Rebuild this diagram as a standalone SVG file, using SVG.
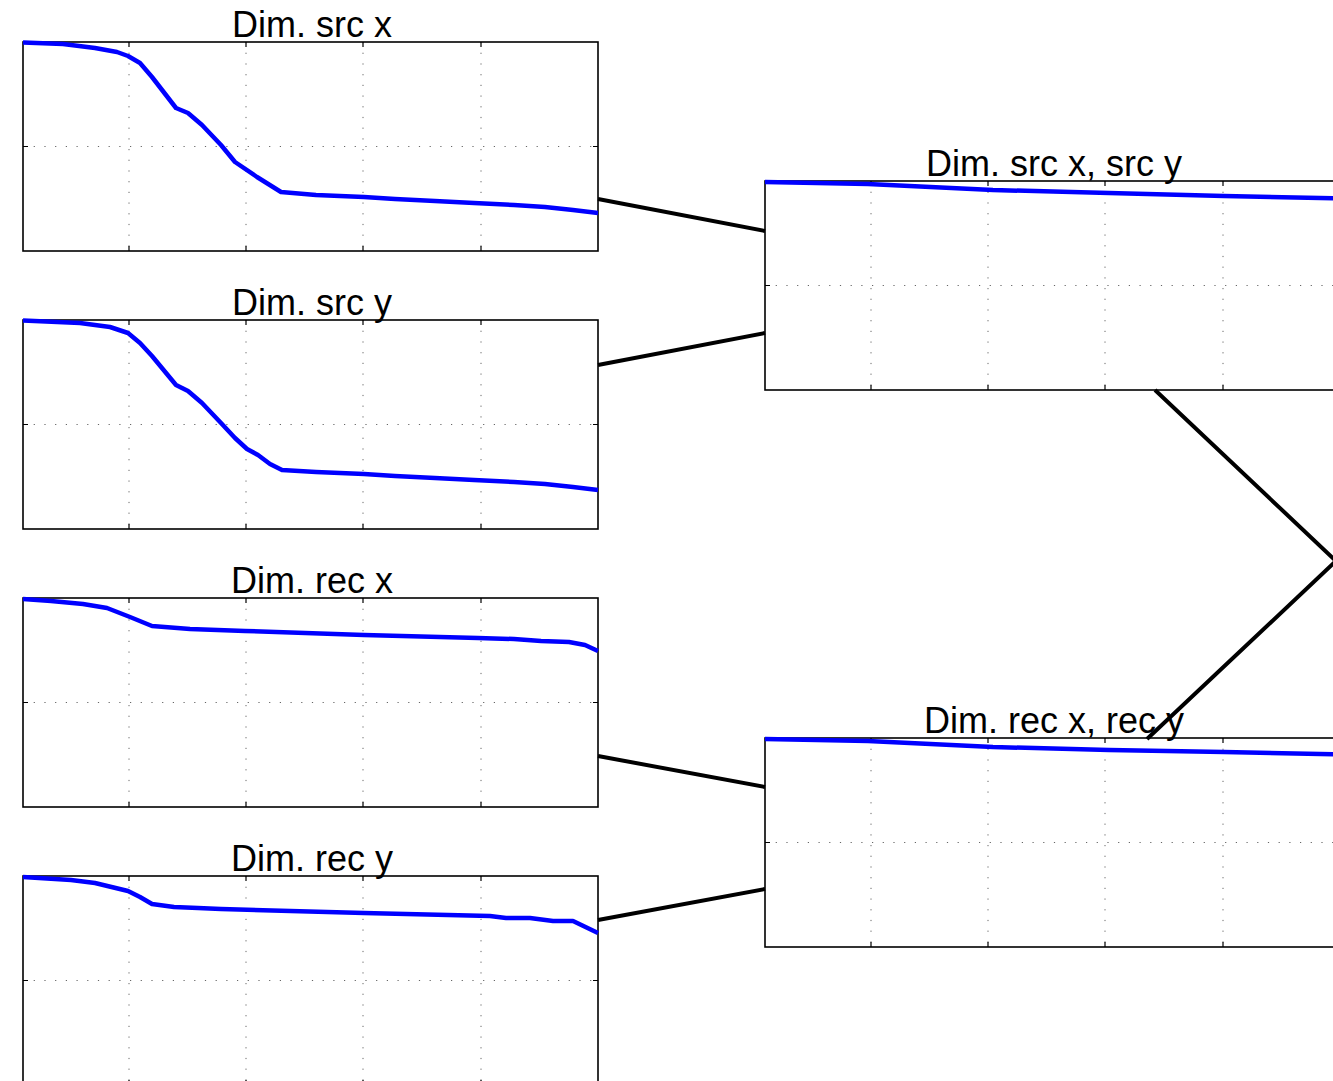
<svg xmlns="http://www.w3.org/2000/svg" xmlns:xlink="http://www.w3.org/1999/xlink" width="1333" height="1081" viewBox="0 0 1333 1081">
<style>
.box{fill:none;stroke:#000;stroke-width:1.6}
.grid{fill:none;stroke:#666;stroke-width:1;stroke-dasharray:1.2,9.5}
.tick{fill:none;stroke:#000;stroke-width:1.2}
.curve{fill:none;stroke:#0000ff;stroke-width:4.5;stroke-linejoin:round;stroke-linecap:butt}
.title{font-family:"Liberation Sans",Arial,sans-serif;font-size:36px;fill:#000;text-anchor:middle}
.conn{fill:none;stroke:#000;stroke-width:4;stroke-linejoin:miter}
</style>
<defs>
<g id="frame">
<path class="grid" d="M106,0V209M223,0V209M340,0V209M458,0V209M0,104.5H575"/>
<path class="tick" d="M106,0v5M223,0v5M340,0v5M458,0v5M106,209v-5M223,209v-5M340,209v-5M458,209v-5M0,104.5h5M575,104.5h-5"/>
<rect class="box" x="0" y="0" width="575" height="209"/>
</g>
</defs>
<rect width="1333" height="1081" fill="#fff"/>
<g id="node-src-x">
<use xlink:href="#frame" x="23" y="42"/>
<text class="title" x="312" y="37">Dim. src x</text>
<polyline class="curve" points="23,42.5 63,44 95,48 117,52 128,56 140,63 152,77 176,108 188,113 202,125 221,145 235,162 257,177 281,192 316,195 364,197 395,199 435,201 474,203 514,205 545,207 573,210 598,213"/>
</g>
<g id="node-src-y">
<use xlink:href="#frame" x="23" y="320"/>
<text class="title" x="312" y="315">Dim. src y</text>
<polyline class="curve" points="23,320.5 80,323 110,327 128,333 140,343 152,356 176,385 188,391 202,403 221,423 235,438 247,449 258,455 270,464 282,470 316,472 364,474 395,476 435,478 474,480 514,482 545,484 573,487 598,490"/>
</g>
<g id="node-rec-x">
<use xlink:href="#frame" x="23" y="598"/>
<text class="title" x="312" y="593">Dim. rec x</text>
<polyline class="curve" points="23,599 51,601 83,604 107,608 130,617 152,626 190,629 245,631 364,635 478,638 514,639 541,641 569,642 585,645 598,651"/>
</g>
<g id="node-rec-y">
<use xlink:href="#frame" x="23" y="876"/>
<text class="title" x="312" y="871">Dim. rec y</text>
<polyline class="curve" points="23,877 71,880 95,883 128,891 140,897 152,904 174,907 198,908 221,909 364,913 490,916 506,918 530,918 553,921 573,921 598,933"/>
</g>
<g id="node-src-xy">
<use xlink:href="#frame" x="765" y="181"/>
<text class="title" x="1054" y="176">Dim. src x, src y</text>
<polyline class="curve" points="765,182 868,184 993,190 1109,193 1224,196 1340,198.5"/>
</g>
<g id="node-rec-xy">
<use xlink:href="#frame" x="765" y="738"/>
<text class="title" x="1054" y="733">Dim. rec x, rec y</text>
<polyline class="curve" points="765,739 868,741 993,747 1109,750 1224,752 1340,754.5"/>
</g>
<g id="connectors">
<line class="conn" x1="598" y1="199" x2="765" y2="231"/>
<line class="conn" x1="598" y1="365" x2="765" y2="333"/>
<line class="conn" x1="598" y1="756" x2="765" y2="787"/>
<line class="conn" x1="598" y1="920" x2="765" y2="889"/>
<polyline class="conn" points="1155,390 1336,561 1147,739"/>
</g>
</svg>
